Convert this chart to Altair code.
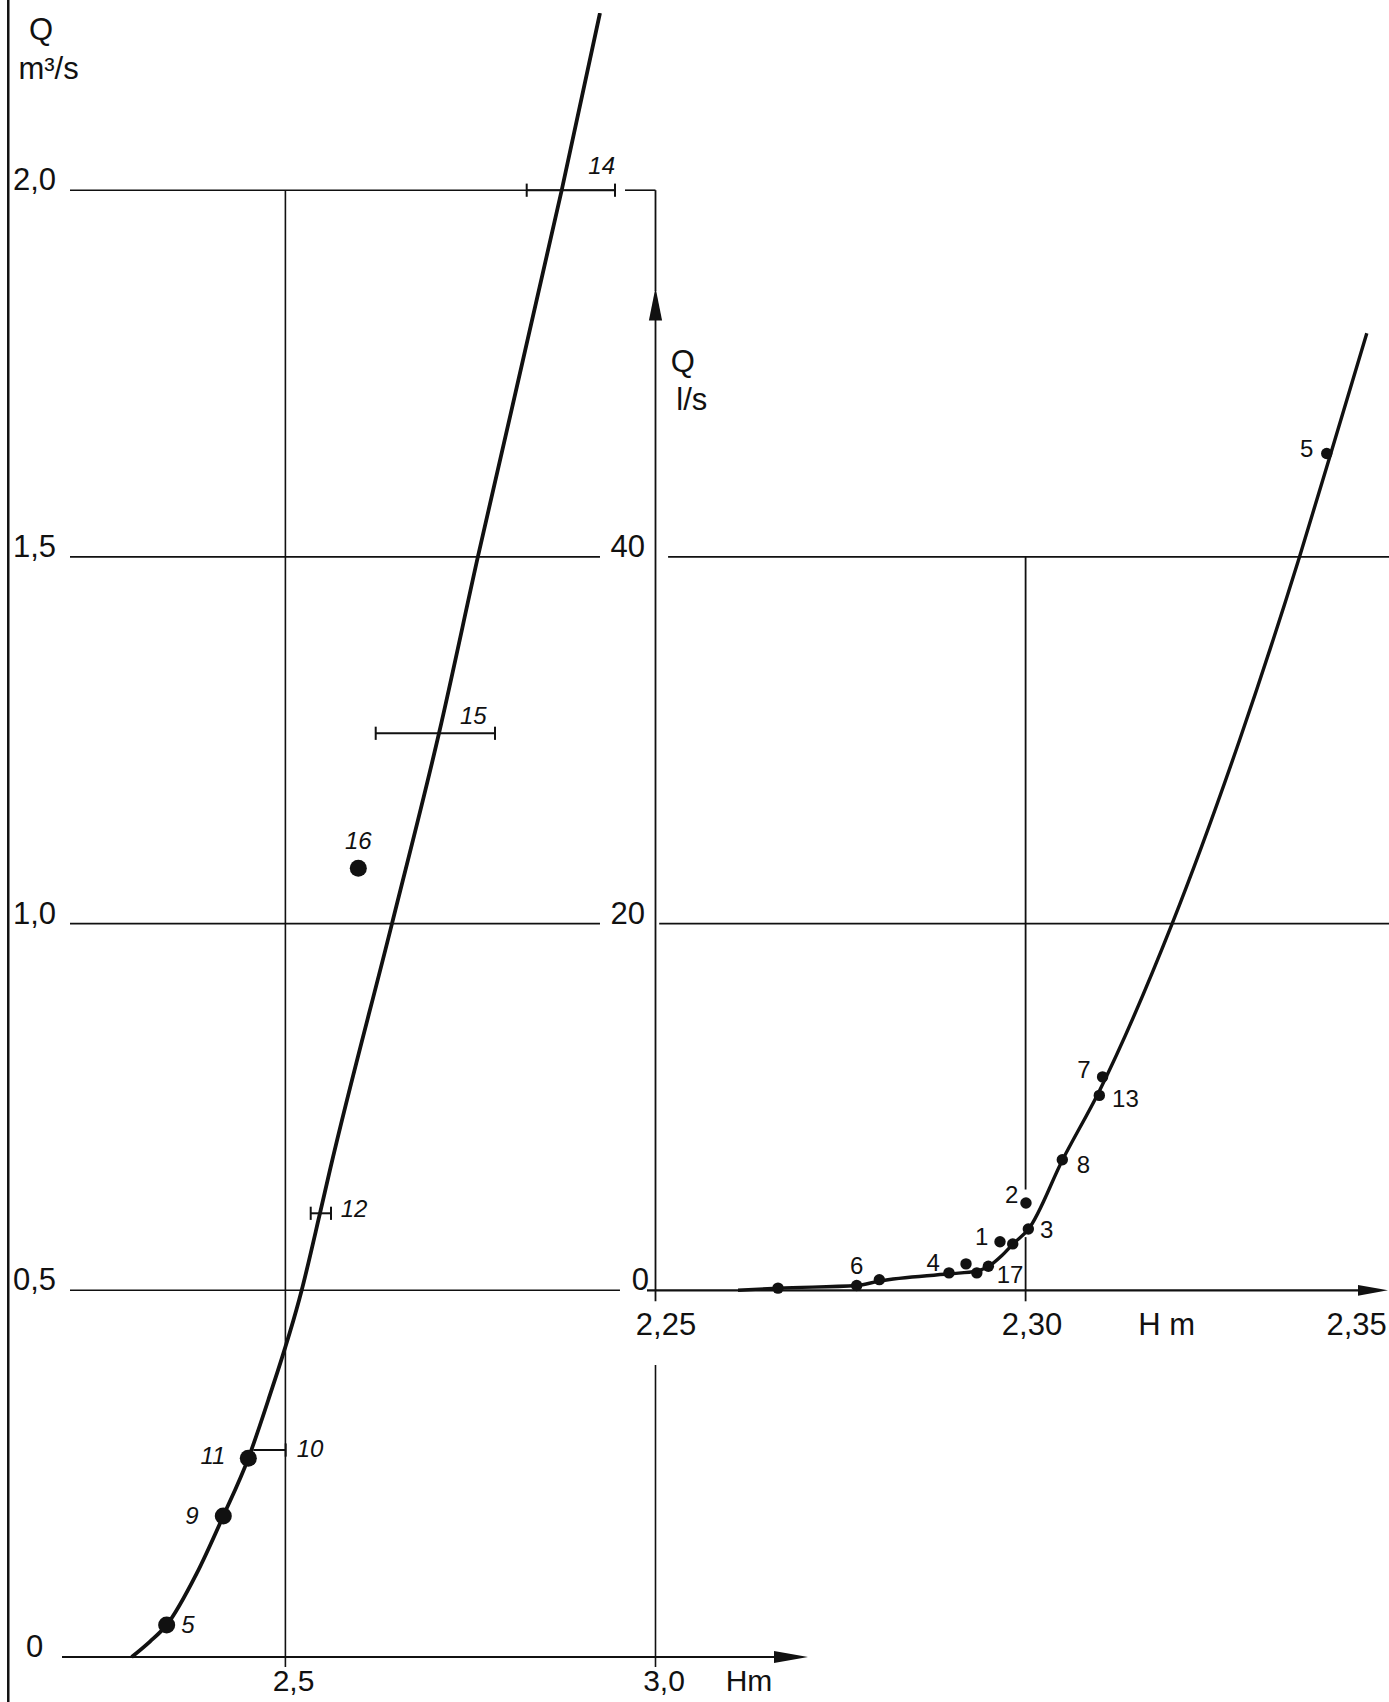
import altair as alt
import pandas as pd

FONT = "Liberation Sans"
INK = "#111111"
W, H = 1389, 1702

# ---- plotting window of the main diagram: stage H (m) and discharge Q (m3/s)
MAIN_X = [2.11443, 3.99095]
MAIN_Y = [-0.06136, 2.25934]


# the low-flow inset uses ten times the stage scale and Q in l/s;
# its origin (2.25 m, 0 l/s) lies on the main point (3.0 m, 0.5 m3/s)
def inset_h(h):
    return 2.25 + (h - 3.0) / 10.0


def inset_q(q):
    return (q - 0.5) * 40.0


INSET_X = [inset_h(v) for v in MAIN_X]
INSET_Y = [inset_q(v) for v in MAIN_Y]

# ---- main rating curve
MAIN_CURVE_H = [2.2923, 2.3170, 2.3396, 2.3802, 2.4161, 2.4499, 2.4769, 2.5220,
                2.5467, 2.5602, 2.6440, 2.7075, 2.7600, 2.8733, 2.9250]
MAIN_CURVE_Q = [0.0, 0.021, 0.0436, 0.114, 0.1923, 0.2709, 0.3504, 0.5,
                0.605, 0.664, 1.0, 1.2595, 1.5, 2.0, 2.2416]

# gaugings shown as dots
MAIN_PT_ID = ["5", "9", "11", "16"]
MAIN_PT_H = [2.3396, 2.4161, 2.4499, 2.5985]
MAIN_PT_Q = [0.0436, 0.1923, 0.2709, 1.0754]

# gaugings shown as stage ranges
ERR_ID = ["10", "12", "15", "14"]
ERR_Q = [0.2822, 0.605, 1.2595, 2.0]
ERR_LO = [2.4566, 2.5342, 2.6220, 2.8260]
ERR_HI = [2.5004, 2.5616, 2.7832, 2.9453]
ERR_LO_CAP = [False, True, True, True]

# gauging numbers
MAIN_LABEL_TEXT = ["5", "9", "11", "10", "12", "16", "15", "14"]
MAIN_LABEL_H = [2.3684, 2.3738, 2.4022, 2.5332, 2.5927, 2.5985, 2.7539, 2.9273]
MAIN_LABEL_Q = [0.0423, 0.1909, 0.2727, 0.2822, 0.6095, 1.1117, 1.2821, 2.0321]

# main tick labels
MAIN_YTICK_TEXT = ["2,0", "1,5", "1,0", "0,5", "0"]
MAIN_YTICK_Q = [2.0, 1.5, 1.0, 0.5, 0.0]
MAIN_YTICK_H = [2.1320, 2.1320, 2.1320, 2.1320, 2.1496]
MAIN_XTICK_TEXT = ["2,5", "3,0", "Hm"]
MAIN_XTICK_H = [2.5110, 3.0115, 3.1263]
MAIN_XTICK_Q = -0.0470

# ---- inset: low-flow part of the curve (l/s)
INSET_CURVE_H = [2.26115, 2.2666, 2.2772, 2.2802, 2.2897, 2.2934, 2.2950, 2.2968,
                 2.2983, 2.3004, 2.3050, 2.3100, 2.3198, 2.3289, 2.3370, 2.3412, 2.3461]
INSET_CURVE_Q = [0.0, 0.12, 0.26, 0.50, 0.90, 1.05, 1.31, 1.90,
                 2.53, 3.34, 7.12, 10.9, 20.0, 30.0, 40.0, 45.6, 52.2]

INSET_PT_H = [2.34068, 2.31040, 2.30996, 2.30496, 2.30005, 2.30037, 2.29654, 2.29826,
              2.29497, 2.29341, 2.28965, 2.29195, 2.28024, 2.27718, 2.26655]
INSET_PT_Q = [45.64, 11.64, 10.63, 7.12, 4.76, 3.34, 2.65, 2.53,
              1.31, 0.95, 0.95, 1.44, 0.58, 0.26, 0.12]

INSET_LABEL_TEXT = ["5", "7", "13", "8", "2", "3", "1", "17", "4", "6"]
INSET_LABEL_H = [2.33797, 2.30789, 2.31348, 2.30780, 2.29812, 2.30285, 2.29407,
                 2.29789, 2.28753, 2.27718]
INSET_LABEL_Q = [45.82, 11.95, 10.40, 6.79, 5.16, 3.25, 2.84, 0.80, 1.44, 1.26]

INSET_YTICK_TEXT = ["40", "20", "0"]
INSET_YTICK_Q = [40.0, 20.0, 0.0]
INSET_YTICK_H = [2.24858, 2.24858, 2.24912]
INSET_XTICK_TEXT = ["2,25", "2,30", "H m"]
INSET_XTICK_H = [2.25142, 2.30086, 2.31905]
INSET_XTICK_Q = -2.43

UP_ARROW = "M0,-1L0.4,1L-0.4,1Z"
RIGHT_ARROW = "M1,0L-1,0.36L-1,-0.36Z"


def sx(field, domain):
    return alt.X(f"{field}:Q", scale=alt.Scale(domain=domain, nice=False, zero=False), axis=None)


def sy(field, domain):
    return alt.Y(f"{field}:Q", scale=alt.Scale(domain=domain, nice=False, zero=False), axis=None)


def hrules(df, X, Y, width):
    return alt.Chart(df).mark_rule(color=INK, strokeWidth=width).encode(
        x=sx("h1", X), x2="h2:Q", y=sy("q", Y))


def vrules(df, X, Y, width):
    return alt.Chart(df).mark_rule(color=INK, strokeWidth=width).encode(
        x=sx("h", X), y=sy("q1", Y), y2="q2:Q")


def texts(df, X, Y, size, align="center", baseline="middle", style="normal"):
    return alt.Chart(df).mark_text(font=FONT, fontSize=size, align=align, baseline=baseline,
                                   fontStyle=style, color=INK).encode(
        x=sx("h", X), y=sy("q", Y), text="t:N")


def arrow(h, q, shape, size, X, Y):
    return alt.Chart(pd.DataFrame({"h": [h], "q": [q]})).mark_point(
        shape=shape, size=size, filled=True, color=INK, opacity=1, strokeWidth=0).encode(
        x=sx("h", X), y=sy("q", Y))


# ================= main diagram =================
MX, MY = MAIN_X, MAIN_Y
main_layers = [
    # left Q axis
    vrules(pd.DataFrame({"h": [2.1256], "q1": [MY[0]], "q2": [MY[1]]}), MX, MY, 2.5),
    # horizontal grid lines
    hrules(pd.DataFrame({"q": [2.0, 2.0, 1.5, 1.0, 0.5],
                         "h1": [2.2090, 2.9588, 2.2090, 2.2090, 2.2090],
                         "h2": [2.9453, 3.0, 2.9250, 2.9250, 2.9520]}), MX, MY, 1.6),
    # vertical grid lines at 2.5 m and 3.0 m
    vrules(pd.DataFrame({"h": [2.5, 3.0], "q1": [-0.0136, -0.0136], "q2": [2.0, 0.398]}),
           MX, MY, 1.6),
    # H axis with arrow
    hrules(pd.DataFrame({"q": [0.0], "h1": [2.1982], "h2": [3.175]}), MX, MY, 2.2),
    arrow(3.1831, 0.0, RIGHT_ARROW, 1156, MX, MY),
    # rating curve
    alt.Chart(pd.DataFrame({"h": MAIN_CURVE_H, "q": MAIN_CURVE_Q})).mark_line(
        color=INK, strokeWidth=3.8, interpolate="monotone").encode(
        x=sx("h", MX), y=sy("q", MY)),
    # stage ranges
    hrules(pd.DataFrame({"q": ERR_Q, "h1": ERR_LO, "h2": ERR_HI}), MX, MY, 2.0),
]

cap_h, cap_q = [], []
for lo, hi, q, lo_cap in zip(ERR_LO, ERR_HI, ERR_Q, ERR_LO_CAP):
    if lo_cap:
        cap_h.append(lo)
        cap_q.append(q)
    cap_h.append(hi)
    cap_q.append(q)
caps = pd.DataFrame({"h": cap_h, "q1": [q - 0.009 for q in cap_q], "q2": [q + 0.009 for q in cap_q]})
main_layers.append(vrules(caps, MX, MY, 2.0))

main_layers += [
    alt.Chart(pd.DataFrame({"h": MAIN_PT_H, "q": MAIN_PT_Q})).mark_circle(
        size=290, color=INK, opacity=1).encode(x=sx("h", MX), y=sy("q", MY)),
    texts(pd.DataFrame({"t": MAIN_LABEL_TEXT, "h": MAIN_LABEL_H, "q": MAIN_LABEL_Q}),
          MX, MY, 24, style="italic"),
    texts(pd.DataFrame({"t": MAIN_YTICK_TEXT, "h": MAIN_YTICK_H, "q": MAIN_YTICK_Q}),
          MX, MY, 31, align="left", baseline="alphabetic"),
    texts(pd.DataFrame({"t": MAIN_XTICK_TEXT, "h": MAIN_XTICK_H,
                        "q": [MAIN_XTICK_Q] * len(MAIN_XTICK_TEXT)}),
          MX, MY, 30, baseline="alphabetic"),
    texts(pd.DataFrame({"t": ["Q"], "h": [2.1700], "q": [2.2048]}), MX, MY, 31,
          baseline="alphabetic"),
    texts(pd.DataFrame({"t": ["m³/s"], "h": [2.1800], "q": [2.1516]}), MX, MY, 31,
          baseline="alphabetic"),
]

# ================= low-flow inset =================
IX, IY = INSET_X, INSET_Y
inset_layers = [
    hrules(pd.DataFrame({"q": [40.0, 20.0], "h1": [2.2517, 2.2505], "h2": [2.3491, 2.3491]}),
           IX, IY, 1.6),
    # H axis of the inset with arrow
    hrules(pd.DataFrame({"q": [0.0], "h1": [2.24885], "h2": [2.3455]}), IX, IY, 2.2),
    arrow(2.34693, 0.0, RIGHT_ARROW, 900, IX, IY),
    # Q axis of the inset with arrow, and the 2.30 m grid line
    vrules(pd.DataFrame({"h": [2.25, 2.25, 2.30, 2.30],
                         "q1": [54.5, -0.6, 5.5, -0.6],
                         "q2": [60.0, 53.5, 40.0, 2.9]}), IX, IY, 1.8),
    arrow(2.25, 53.79, UP_ARROW, 1089, IX, IY),
    alt.Chart(pd.DataFrame({"h": INSET_CURVE_H, "q": INSET_CURVE_Q})).mark_line(
        color=INK, strokeWidth=3.4, interpolate="monotone").encode(
        x=sx("h", IX), y=sy("q", IY)),
    alt.Chart(pd.DataFrame({"h": INSET_PT_H, "q": INSET_PT_Q})).mark_circle(
        size=130, color=INK, opacity=1).encode(x=sx("h", IX), y=sy("q", IY)),
    texts(pd.DataFrame({"t": INSET_LABEL_TEXT, "h": INSET_LABEL_H, "q": INSET_LABEL_Q}),
          IX, IY, 24),
    texts(pd.DataFrame({"t": INSET_YTICK_TEXT, "h": INSET_YTICK_H, "q": INSET_YTICK_Q}),
          IX, IY, 31, align="right", baseline="alphabetic"),
    texts(pd.DataFrame({"t": INSET_XTICK_TEXT, "h": INSET_XTICK_H,
                        "q": [INSET_XTICK_Q] * len(INSET_XTICK_TEXT)}),
          IX, IY, 31, baseline="alphabetic"),
    texts(pd.DataFrame({"t": ["2,35"], "h": [2.3488], "q": [INSET_XTICK_Q]}),
          IX, IY, 31, align="right", baseline="alphabetic"),
    texts(pd.DataFrame({"t": ["Q"], "h": [2.2537], "q": [50.08]}), IX, IY, 31,
          baseline="alphabetic"),
    texts(pd.DataFrame({"t": ["l/s"], "h": [2.2549], "q": [47.99]}), IX, IY, 31,
          baseline="alphabetic"),
]

chart = (
    alt.layer(alt.layer(*main_layers), alt.layer(*inset_layers))
    .resolve_scale(x="independent", y="independent")
    .properties(width=W, height=H, padding=0, background="white",
                autosize=alt.AutoSizeParams(type="none"))
    .configure_view(stroke=None)
)

chart.save("out.html", embed_options={"renderer": "svg", "actions": False})
